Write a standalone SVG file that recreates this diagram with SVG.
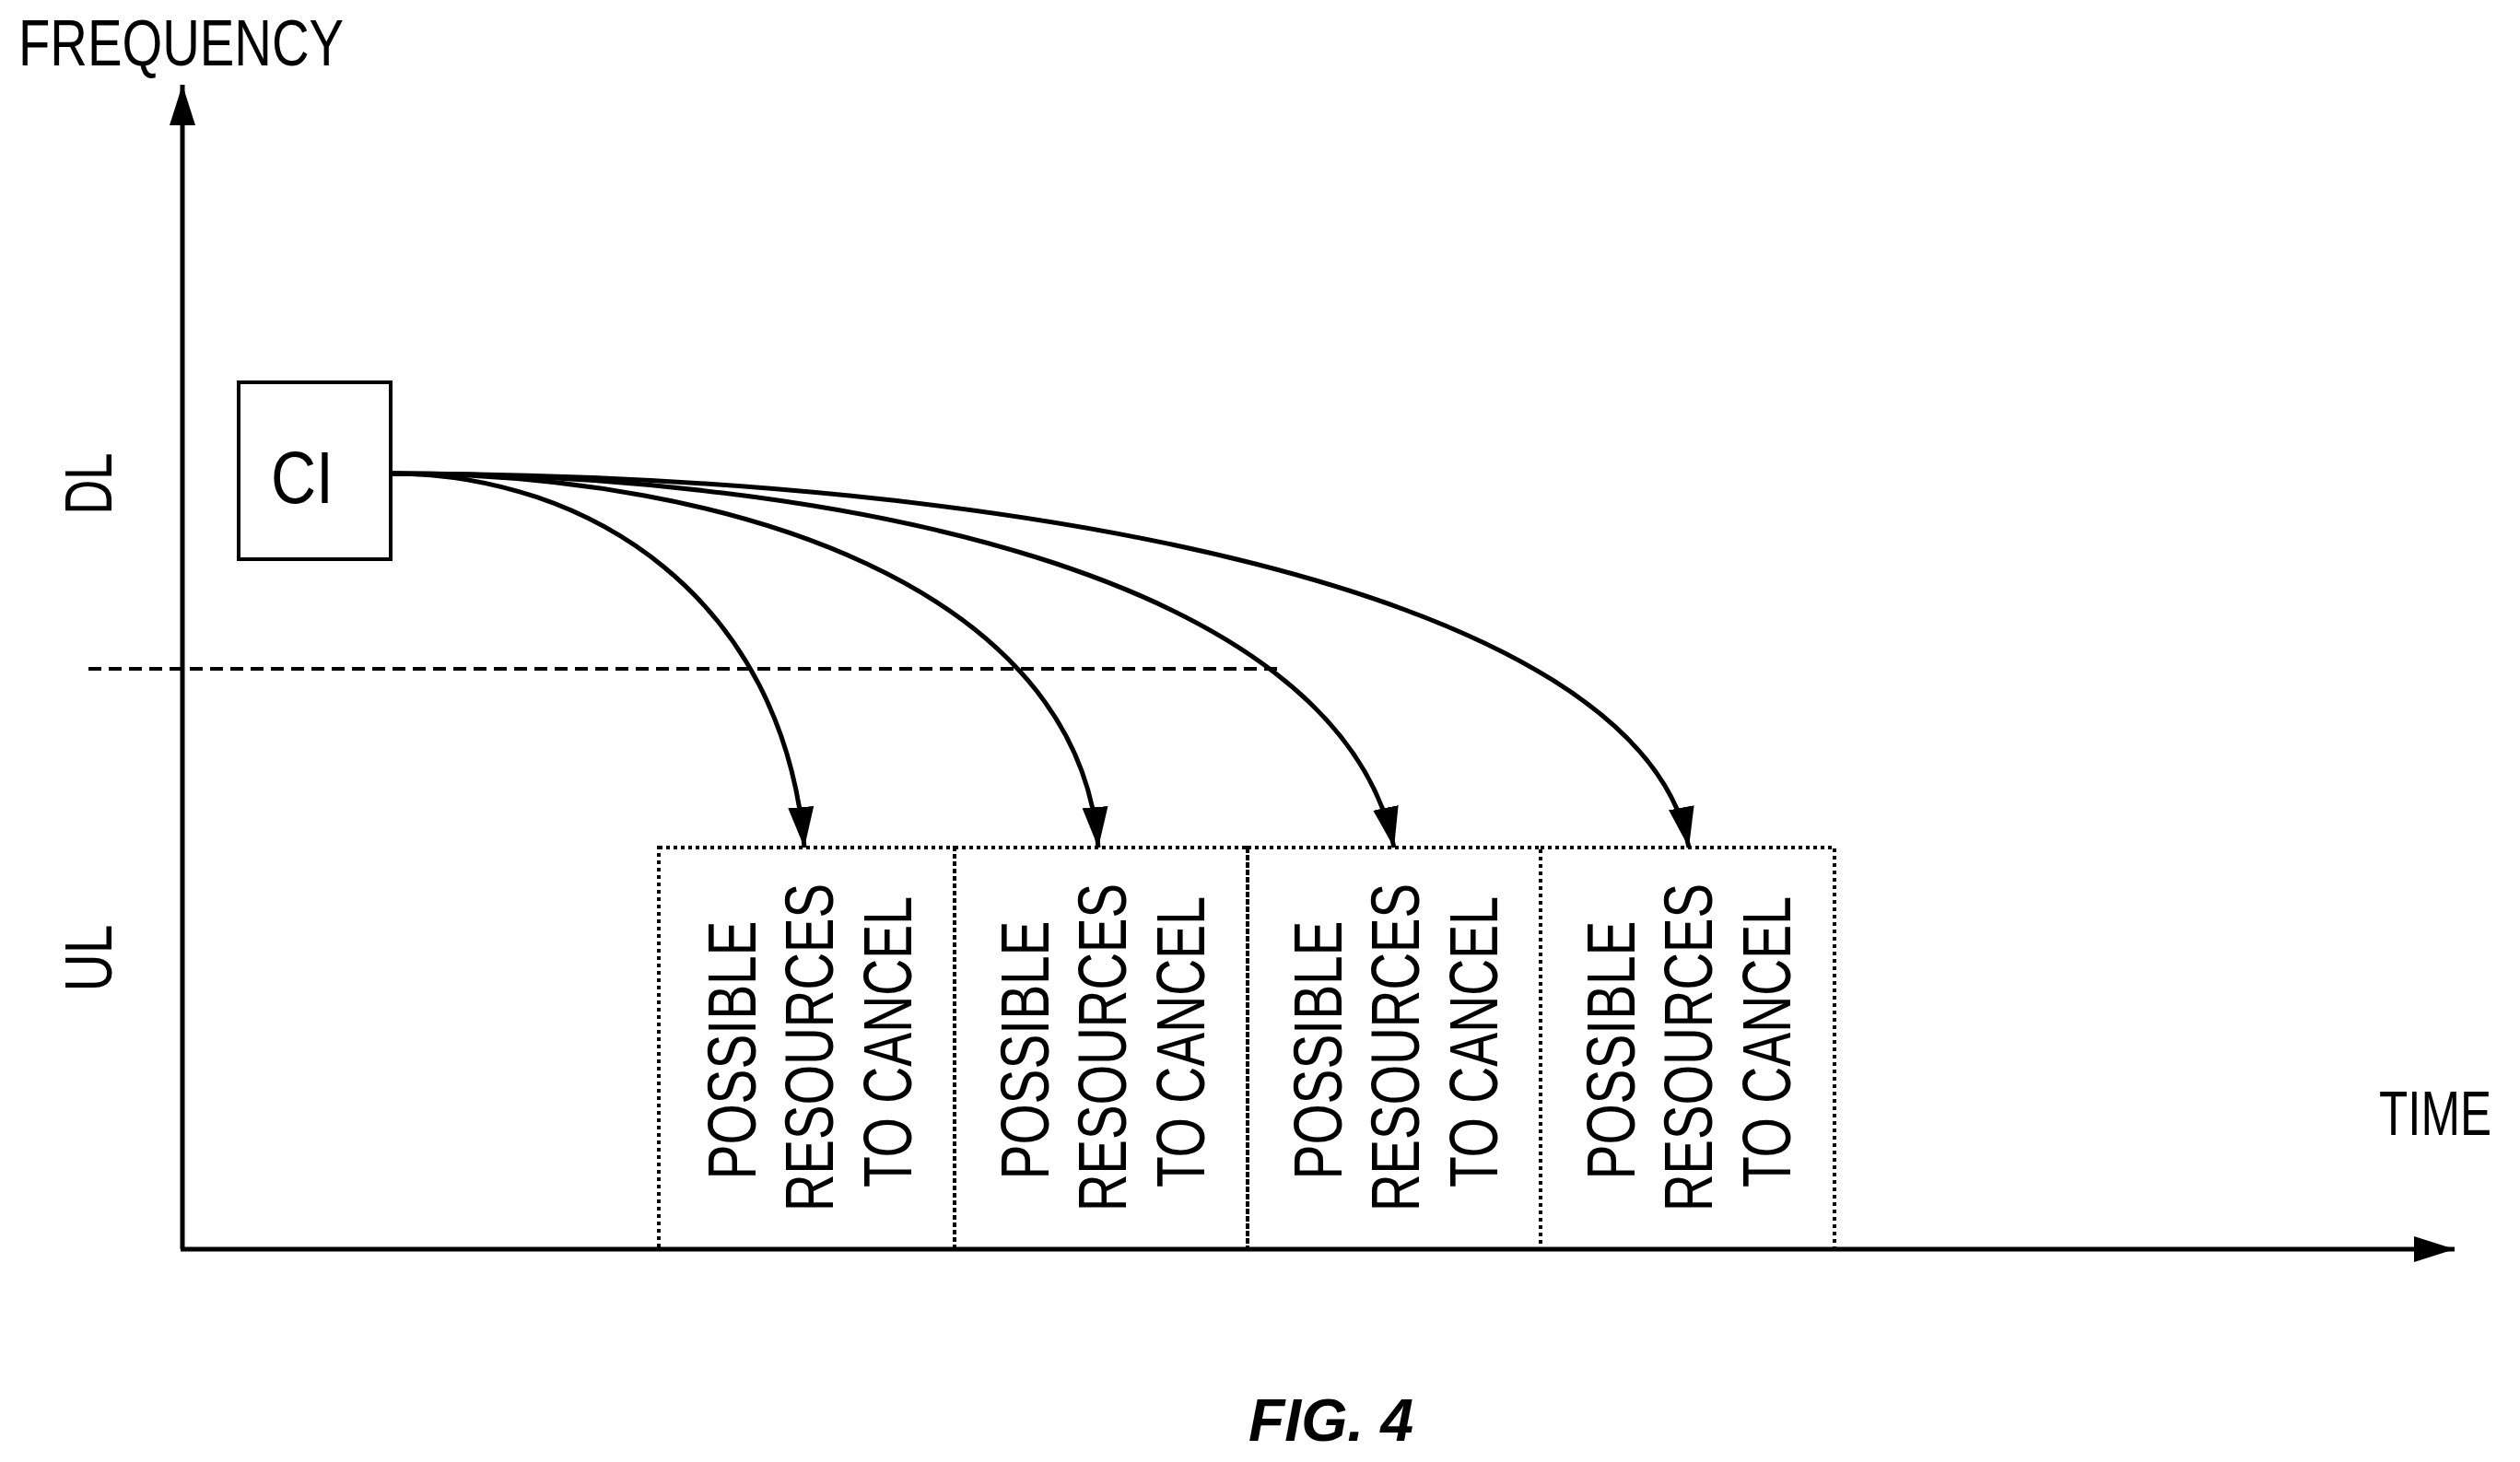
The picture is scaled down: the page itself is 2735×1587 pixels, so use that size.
<svg xmlns="http://www.w3.org/2000/svg" width="2735" height="1587" viewBox="0 0 2735 1587">
<style>
text{font-family:"Liberation Sans",Arial,sans-serif;fill:#000}
.ax{stroke:#000;stroke-width:5;fill:none}
.cv{stroke:#000;stroke-width:5;fill:none}
.bx{stroke:#000;stroke-width:4;fill:none;stroke-dasharray:4 4}
.lbl{font-size:74px}
</style>
<defs>
<marker id="ah" markerUnits="userSpaceOnUse" markerWidth="50" markerHeight="50" viewBox="0 0 50 50" refX="44" refY="25" orient="auto">
<path d="M0,11 L44,25 L0,39 Z" fill="#000"/>
</marker>
</defs>
<g id="axes">
<line class="ax" x1="198" y1="1356" x2="198" y2="92" marker-end="url(#ah)"/>
<line class="ax" x1="196" y1="1356" x2="2664" y2="1356" marker-end="url(#ah)"/>
<line x1="96" y1="726" x2="1391" y2="726" stroke="#000" stroke-width="4" stroke-dasharray="14 8"/>
<text x="20" y="71" font-size="71" textLength="353" lengthAdjust="spacingAndGlyphs">FREQUENCY</text>
<text x="2582" y="1232" font-size="68" textLength="122" lengthAdjust="spacingAndGlyphs">TIME</text>
<text transform="translate(121,525) rotate(-90)" font-size="72" text-anchor="middle" textLength="67" lengthAdjust="spacingAndGlyphs">DL</text>
<text transform="translate(121,1040) rotate(-90)" font-size="72" text-anchor="middle" textLength="73" lengthAdjust="spacingAndGlyphs">UL</text>
</g>
<g id="ci">
<rect x="259" y="415" width="165" height="192" fill="none" stroke="#000" stroke-width="4"/>
<text x="294" y="546" font-size="80" font-family="'Open Sans',sans-serif" textLength="68" lengthAdjust="spacingAndGlyphs">CI</text>
</g>
<g id="box1">
<rect class="bx" x="715" y="920" width="321" height="436"/>
<text class="lbl" transform="translate(820,1140) rotate(-90)" text-anchor="middle" textLength="281" lengthAdjust="spacingAndGlyphs">POSSIBLE</text>
<text class="lbl" transform="translate(904,1137) rotate(-90)" text-anchor="middle" textLength="356" lengthAdjust="spacingAndGlyphs">RESOURCES</text>
<text class="lbl" transform="translate(989,1131) rotate(-90)" text-anchor="middle" textLength="316" lengthAdjust="spacingAndGlyphs">TO CANCEL</text>
</g>
<g id="box2">
<rect class="bx" x="1036" y="920" width="318" height="436"/>
<text class="lbl" transform="translate(1138,1140) rotate(-90)" text-anchor="middle" textLength="281" lengthAdjust="spacingAndGlyphs">POSSIBLE</text>
<text class="lbl" transform="translate(1222,1137) rotate(-90)" text-anchor="middle" textLength="356" lengthAdjust="spacingAndGlyphs">RESOURCES</text>
<text class="lbl" transform="translate(1307,1131) rotate(-90)" text-anchor="middle" textLength="316" lengthAdjust="spacingAndGlyphs">TO CANCEL</text>
</g>
<g id="box3">
<rect class="bx" x="1354" y="920" width="318" height="436"/>
<text class="lbl" transform="translate(1456,1140) rotate(-90)" text-anchor="middle" textLength="281" lengthAdjust="spacingAndGlyphs">POSSIBLE</text>
<text class="lbl" transform="translate(1540,1137) rotate(-90)" text-anchor="middle" textLength="356" lengthAdjust="spacingAndGlyphs">RESOURCES</text>
<text class="lbl" transform="translate(1625,1131) rotate(-90)" text-anchor="middle" textLength="316" lengthAdjust="spacingAndGlyphs">TO CANCEL</text>
</g>
<g id="box4">
<rect class="bx" x="1672" y="920" width="319" height="436"/>
<text class="lbl" transform="translate(1774,1140) rotate(-90)" text-anchor="middle" textLength="281" lengthAdjust="spacingAndGlyphs">POSSIBLE</text>
<text class="lbl" transform="translate(1858,1137) rotate(-90)" text-anchor="middle" textLength="356" lengthAdjust="spacingAndGlyphs">RESOURCES</text>
<text class="lbl" transform="translate(1943,1131) rotate(-90)" text-anchor="middle" textLength="316" lengthAdjust="spacingAndGlyphs">TO CANCEL</text>
</g>
<g id="connectors">
<path class="cv" d="M424,514 C640,514 850,650 873,920" marker-end="url(#ah)"/>
<path class="cv" d="M424,514 C800,514 1170,640 1192,920" marker-end="url(#ah)"/>
<path class="cv" d="M424,514 C900,514 1450,620 1513,920" marker-end="url(#ah)"/>
<path class="cv" d="M424,514 C1100,514 1780,640 1833,920" marker-end="url(#ah)"/>
</g>
<text x="1355" y="1564" font-size="65" font-weight="bold" font-style="italic" textLength="179" lengthAdjust="spacingAndGlyphs">FIG. 4</text>
</svg>
